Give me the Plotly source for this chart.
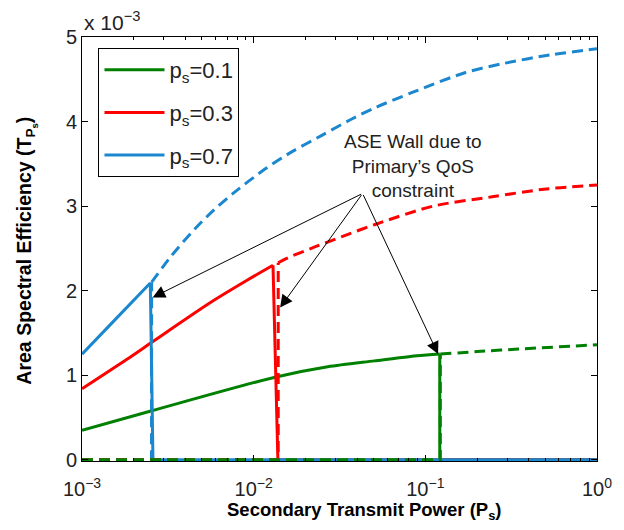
import plotly.graph_objects as go
import numpy as np

# ---------------- data (y in units of 1e-3) ----------------
labels = ["p<sub>s</sub>=0.1", "p<sub>s</sub>=0.3", "p<sub>s</sub>=0.7"]
colors = ["#008000", "#ff0000", "#1a87cf"]

# solid (constrained) part before the wall
green_solid_x = [1e-3, 0.00255, 0.01352, 0.027, 0.0505, 0.08, 0.1214]
green_solid_y = [0.35, 0.58, 0.98, 1.10, 1.17, 1.22, 1.25]
red_solid_x = [1e-3, 0.0018, 0.00255, 0.0056, 0.0091, 0.01296]
red_solid_y = [0.84, 1.18, 1.39, 1.86, 2.12, 2.30]
blue_solid_x = [1e-3, 0.00158, 0.0025]
blue_solid_y = [1.25, 1.67, 2.09]

# x where the solid wall reaches zero
wall_bottom_x = [0.1214, 0.01384, 0.00259]
# x of the dashed wall
wall_dash_x = [0.1222, 0.0139, 0.00254]

# dashed (unconstrained) continuation after the wall
green_dash_x = [0.1222, 0.2, 0.349, 1.0]
green_dash_y = [1.25, 1.28, 1.31, 1.36]
red_dash_x = [0.0139, 0.01545, 0.0229, 0.0327, 0.0505, 0.111, 0.245, 0.491, 1.0]
red_dash_y = [2.33, 2.38, 2.52, 2.64, 2.78, 3.00, 3.11, 3.20, 3.25]
blue_dash_x = [0.002545, 0.003311, 0.004541, 0.005906, 0.007686, 0.011866, 0.01693,
               0.02512, 0.03728, 0.05045, 0.08537, 0.1715, 0.2903, 0.5386, 1.0]
blue_dash_y = [2.10, 2.41, 2.73, 2.96, 3.16, 3.45, 3.65, 3.84, 4.03, 4.16,
               4.35, 4.58, 4.69, 4.79, 4.86]

x_ticks = [1e-3, 1e-2, 1e-1, 1]
x_ticktext = ["10<sup>−3</sup>", "10<sup>−2</sup>", "10<sup>−1</sup>", "10<sup>0</sup>"]
y_ticks = [0, 1, 2, 3, 4, 5]

# annotation arrows: tail and heads (x real value, y in 1e-3)
arrow_tail = (0.0431, 3.15)
arrow_heads_x = [0.00258, 0.01426, 0.1186]
arrow_heads_y = [1.92, 1.80, 1.25]

FONT = "Liberation Sans"

solids = [(green_solid_x, green_solid_y), (red_solid_x, red_solid_y), (blue_solid_x, blue_solid_y)]
dashes = [(green_dash_x, green_dash_y), (red_dash_x, red_dash_y), (blue_dash_x, blue_dash_y)]
DASH = "11px,6px"

fig = go.Figure()
# solid traces: smooth curve, then wall down to zero and along zero
for i in range(3):
    sx, sy = solids[i]
    fig.add_trace(go.Scatter(
        x=sx, y=sy, mode="lines", name=labels[i], legendgroup=f"g{i}",
        line=dict(color=colors[i], width=3, shape="spline", smoothing=0.8),
    ))
    fig.add_trace(go.Scatter(
        x=[sx[-1], wall_bottom_x[i], 1.0], y=[sy[-1], 0, 0],
        mode="lines", showlegend=False, legendgroup=f"g{i}",
        line=dict(color=colors[i], width=3),
    ))
# dashed traces (blue, red, green order): zero line + wall, then smooth curve
for i in [2, 1, 0]:
    dx, dy = dashes[i]
    fig.add_trace(go.Scatter(
        x=[1e-3, wall_dash_x[i], dx[0]], y=[0, 0, dy[0]],
        mode="lines", showlegend=False, legendgroup=f"g{i}",
        line=dict(color=colors[i], width=3, dash=DASH),
    ))
    fig.add_trace(go.Scatter(
        x=dx, y=dy, mode="lines", showlegend=False, legendgroup=f"g{i}",
        line=dict(color=colors[i], width=3, dash=DASH, shape="spline", smoothing=0.8),
    ))

annotations = []
for hx, hy in zip(arrow_heads_x, arrow_heads_y):
    annotations.append(dict(
        x=np.log10(hx), y=hy, xref="x", yref="y",
        ax=np.log10(arrow_tail[0]), ay=arrow_tail[1], axref="x", ayref="y",
        text="", showarrow=True, arrowhead=2, arrowsize=2.5, arrowwidth=1,
        arrowcolor="black", standoff=0,
    ))
annotations.append(dict(
    x=np.log10(0.0853), y=3.48, xref="x", yref="y",
    text="ASE Wall due to<br>Primary’s QoS<br>constraint",
    showarrow=False, align="center",
    font=dict(family=FONT, size=19, color="#222"),
))
annotations.append(dict(
    x=0, y=1.0, xref="paper", yref="paper", xanchor="left", yanchor="bottom",
    text="x 10<sup>−3</sup>", showarrow=False, yshift=1,
    font=dict(family=FONT, size=21, color="#222"),
))
# axis titles
annotations.append(dict(
    x=0.549, y=-0.118, xref="paper", yref="paper", xanchor="center", yanchor="middle",
    text="<b>Secondary Transmit Power (P<sub>s</sub>)</b>", showarrow=False,
    font=dict(family=FONT, size=18.5, color="black"),
))
annotations.append(dict(
    x=-0.108, y=0.497, xref="paper", yref="paper", xanchor="center", yanchor="middle",
    text="<b>Area Spectral Efficiency (T<sub>P<sub>s</sub></sub>)</b>", showarrow=False,
    textangle=-90,
    font=dict(family=FONT, size=19.5, color="black"),
))

fig.update_layout(
    width=624, height=530,
    margin=dict(l=82, r=17, t=37, b=69),
    paper_bgcolor="white", plot_bgcolor="white",
    font=dict(family=FONT, color="#222"),
    annotations=annotations,
    legend=dict(
        x=0.032, y=0.974, xanchor="left", yanchor="top",
        bordercolor="black", borderwidth=1, bgcolor="white",
        font=dict(family=FONT, size=22, color="#222"),
        tracegroupgap=11, itemwidth=60,
    ),
    xaxis=dict(
        type="log", range=[-3, 0],
        tickvals=x_ticks, ticktext=x_ticktext,
        ticks="inside", ticklen=6, tickcolor="black",
        ticklabelstandoff=10,
        minor=dict(dtick="D1", ticks="inside", ticklen=3,
                   tickcolor="black", showgrid=False),
        showline=True, linecolor="black", linewidth=1, mirror="ticks",
        showgrid=False, zeroline=False,
        tickfont=dict(family=FONT, size=20, color="#222"),
    ),
    yaxis=dict(
        range=[-0.014, 5], tickvals=y_ticks,
        ticks="inside", ticklen=6, tickcolor="black",
        showline=True, linecolor="black", linewidth=1, mirror="ticks",
        showgrid=False, zeroline=False,
        tickfont=dict(family=FONT, size=20, color="#222"),
    ),
)

fig.write_html("out.html")
